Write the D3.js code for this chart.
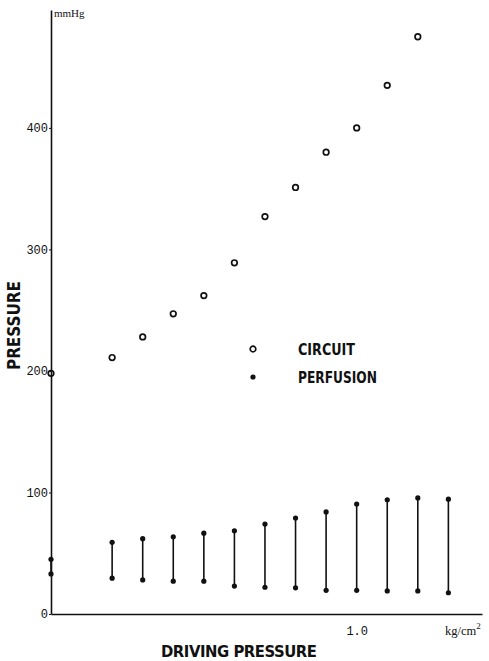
<!DOCTYPE html>
<html>
<head>
<meta charset="utf-8">
<script src="https://cdn.jsdelivr.net/npm/d3@7"></script>
<style>
  body { margin: 0; background: #fff; }
  svg { display: block; }
  .tick text { font-family: "Liberation Mono", "DejaVu Sans Mono", monospace; font-size: 12px; fill: #111; }
  .label { font-family: "Liberation Sans Narrow", "DejaVu Sans Condensed", "Liberation Sans", sans-serif; font-weight: bold; fill: #111; }
  .unit { font-family: "Liberation Serif", "DejaVu Serif", serif; fill: #111; }
</style>
</head>
<body>
<svg class="chart"></svg>
<script>
// driving pressure (kg/cm2) and circuit pressure (mmHg)
const circuitX = [0, 0.2, 0.3, 0.4, 0.5, 0.6, 0.7, 0.8, 0.9, 1.0, 1.1, 1.2];
const circuitY = [198, 211, 228, 247, 262, 289, 327, 351, 380, 400, 435, 475];

// perfusion pressure range (mmHg)
const perfusionX = [0, 0.2, 0.3, 0.4, 0.5, 0.6, 0.7, 0.8, 0.9, 1.0, 1.1, 1.2, 1.3];
const perfusionHigh = [45, 59, 62, 63.5, 66.5, 68.5, 74, 79, 84, 90.5, 94, 95.5, 94.5];
const perfusionLow = [33, 29.5, 28, 27, 27, 23, 22, 21.5, 19.5, 19.5, 19, 19, 17.5];

const yTicks = [0, 100, 200, 300, 400];
const xTicks = [1.0];
const legendItems = ['CIRCUIT', 'PERFUSION'];

const startApp = () => {
  const viewBox = { width: 489, height: 661 };
  const ink = '#111';
  const xScale = d3.scaleLinear().domain([0, 1.41]).range([51, 482]);
  const yScale = d3.scaleLinear().domain([0, 497]).range([614, 10]);

  const chart = d3.select('.chart')
    .attr('width', viewBox.width)
    .attr('height', viewBox.height);

  const yAxis = d3.axisLeft(yScale).tickValues(yTicks).tickSize(2).tickSizeOuter(0).tickPadding(1);
  const xAxis = d3.axisBottom(xScale).tickValues(xTicks).tickSize(0).tickSizeOuter(0)
    .tickFormat(d3.format('.1f'));

  const yG = chart.append('g').attr('transform', `translate(${xScale(0)}, 0)`).call(yAxis);
  const xG = chart.append('g').attr('transform', `translate(0, ${yScale(0)})`).call(xAxis);
  [yG, xG].forEach((g) => {
    g.select('.domain').attr('stroke', ink).attr('stroke-width', 1.6);
    g.selectAll('.tick line').attr('stroke', ink);
  });
  xG.selectAll('.tick text').attr('y', 21).attr('dy', 0);

  // units
  chart.append('text').classed('unit', true)
    .attr('x', 54).attr('y', 17).attr('font-size', 11).text('mmHg');
  const kg = chart.append('text').classed('unit', true)
    .attr('x', 445).attr('y', 635).attr('font-size', 12.5);
  kg.append('tspan').text('kg/cm');
  kg.append('tspan').attr('font-size', 9).attr('dy', -6).text('2');

  // axis titles
  chart.append('text').classed('label', true)
    .attr('x', 161).attr('y', 657).attr('font-size', 16.5)
    .attr('textLength', 156).attr('lengthAdjust', 'spacing')
    .text('DRIVING PRESSURE');
  chart.append('text').classed('label', true)
    .attr('transform', 'translate(20, 370) rotate(-90)')
    .attr('font-size', 17)
    .attr('textLength', 89).attr('lengthAdjust', 'spacing')
    .text('PRESSURE');

  // perfusion ranges
  const perfusion = perfusionX.map((x, i) => ({ x, high: perfusionHigh[i], low: perfusionLow[i] }));
  chart.append('g').selectAll('line')
    .data(perfusion)
    .enter()
    .append('line')
    .attr('x1', d => xScale(d.x)).attr('x2', d => xScale(d.x))
    .attr('y1', d => yScale(d.high)).attr('y2', d => yScale(d.low))
    .attr('stroke', ink).attr('stroke-width', 1.6);
  chart.append('g').selectAll('circle')
    .data(perfusion.flatMap(d => [{ x: d.x, y: d.high }, { x: d.x, y: d.low }]))
    .enter()
    .append('circle')
    .attr('cx', d => xScale(d.x)).attr('cy', d => yScale(d.y))
    .attr('r', 2.6).attr('fill', ink);

  // circuit points
  chart.append('g').selectAll('circle')
    .data(circuitX.map((x, i) => ({ x, y: circuitY[i] })))
    .enter()
    .append('circle')
    .attr('cx', d => xScale(d.x)).attr('cy', d => yScale(d.y))
    .attr('r', 2.8).attr('fill', 'none')
    .attr('stroke', ink).attr('stroke-width', 1.7);

  // legend
  const legend = chart.append('g').selectAll('g')
    .data(legendItems)
    .enter()
    .append('g')
    .attr('transform', (d, i) => `translate(253, ${349 + i * 28})`);
  legend.append('circle')
    .attr('r', (d, i) => (i === 0 ? 2.8 : 2.6))
    .attr('fill', (d, i) => (i === 0 ? 'none' : ink))
    .attr('stroke', ink).attr('stroke-width', (d, i) => (i === 0 ? 1.7 : 0));
  legend.append('text').classed('label', true)
    .attr('x', 45).attr('y', 5.5).attr('font-size', 16.5)
    .attr('textLength', (d, i) => (i === 0 ? 57 : 79)).attr('lengthAdjust', 'spacingAndGlyphs')
    .text(d => d);
};

window.onload = startApp;
</script>
</body>
</html>
